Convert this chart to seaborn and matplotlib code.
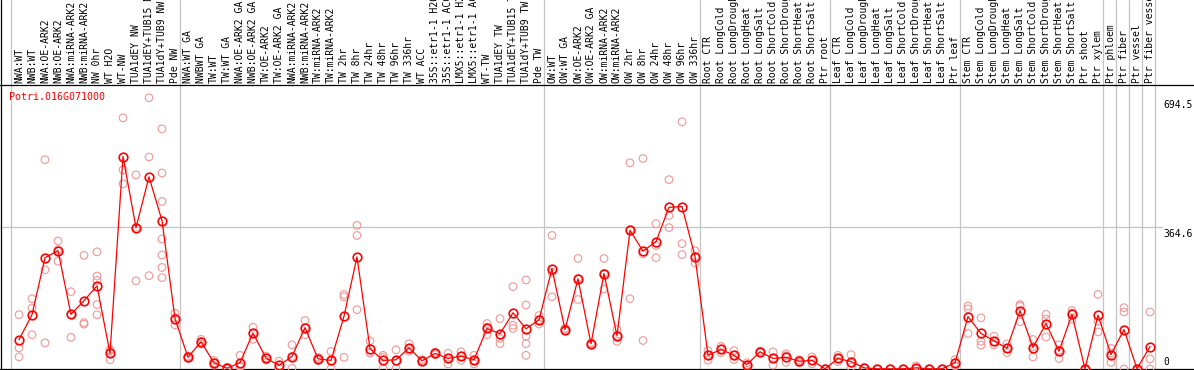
import numpy as np
import pandas as pd
import matplotlib
matplotlib.use("Agg")
import matplotlib.pyplot as plt
import seaborn as sns

# ---------------- data ----------------
labels = ["NWA:WT", "NWB:WT", "NWA:OE-ARK2", "NWB:OE-ARK2", "NWA:miRNA-ARK2", "NWB:miRNA-ARK2",
          "NW 0hr", "WT H2O", "WT-NW", "TUA1dEY NW", "TUA1dEY+TUB15 NW", "TUA1dY+TUB9 NW", "Pde NW",
          "NWA:WT GA", "NWBWT GA", "TW:WT", "TW:WT GA", "NWA:OE-ARK2 GA", "NWB:OE-ARK2 GA",
          "TW:OE-ARK2", "TW:OE-ARK2 GA", "NWA:miRNA-ARK2", "NWB:miRNA-ARK2", "TW:miRNA-ARK2",
          "TW:miRNA-ARK2", "TW 2hr", "TW 8hr", "TW 24hr", "TW 48hr", "TW 96hr", "TW 336hr", "WT ACC",
          "35S::etr1-1 H2O", "35S::etr1-1 ACC", "LMX5::etr1-1 H2O", "LMX5::etr1-1 ACC", "WT-TW",
          "TUA1dEY TW", "TUA1dEY+TUB15 TW", "TUA1dY+TUB9 TW", "Pde TW", "OW:WT", "OW:WT GA",
          "OW:OE-ARK2", "OW:OE-ARK2 GA", "OW:miRNA-ARK2", "OW:miRNA-ARK2", "OW 2hr", "OW 8hr",
          "OW 24hr", "OW 48hr", "OW 96hr", "OW 336hr", "Root CTR", "Root LongCold",
          "Root LongDrought", "Root LongHeat", "Root LongSalt", "Root ShortCold", "Root ShortDrought",
          "Root ShortHeat", "Root ShortSalt", "Ptr root", "Leaf CTR", "Leaf LongCold",
          "Leaf LongDrought", "Leaf LongHeat", "Leaf LongSalt", "Leaf ShortCold", "Leaf ShortDrought",
          "Leaf ShortHeat", "Leaf ShortSalt", "Ptr leaf", "Stem CTR", "Stem LongCold",
          "Stem LongDrought", "Stem LongHeat", "Stem LongSalt", "Stem ShortCold", "Stem ShortDrought",
          "Stem ShortHeat", "Stem ShortSalt", "Ptr shoot", "Ptr xylem", "Ptr phloem", "Ptr fiber",
          "Ptr vessel", "Ptr fiber vessel"]

means = [75, 139, 285, 303, 140, 175, 213, 40, 544, 362, 492, 380, 129,
         30, 70, 16, 2, 16, 92, 28, 9, 32, 106, 26, 22, 135, 287, 52, 22, 23.5, 54, 21,
         40, 27, 33, 23.5, 104, 90, 144, 103, 126,
         257, 101, 231, 64.5, 244.5, 85, 355, 302, 326, 414, 416, 288,
         35, 50, 35, 11.5, 44, 27, 30, 20, 22, 0.5,
         27, 19, 3, 0.5, 0.5, 0.5, 3, 0.5, 0.5, 16,
         134, 91, 72, 53, 149, 55, 116.5, 45.6, 140, 0.5,
         138, 37, 101, 0.5, 57.6]

reps = [[139, 54, 31], [180, 156, 88], [536, 254, 67], [328, 305, 276], [198, 140, 81],
        [291, 119, 115], [300, 238, 227, 165, 139], [46, 49, 24], [643, 510, 474],
        [497, 363, 226], [694.5, 543, 239], [615, 502, 429, 333, 292, 260, 234], [143, 131, 113],
        [33, 30, 27], [76, 70, 64], [22, 16, 10], [4, 1, 0], [35, 8, 5], [107, 92, 76],
        [33, 28, 23], [20, 5, 2], [62, 32, 2], [124, 106, 88], [30, 26, 22], [45, 20, 1],
        [191, 185, 30], [368, 342, 152], [72, 42, 41], [35, 30, 1], [49, 20, 1],
        [64.5, 52, 46], [24, 21, 18], [43, 40, 37], [40.5, 27, 13], [44, 33, 22],
        [35, 23, 13], [116.5, 107, 88], [129, 78, 65], [211, 112, 104],
        [228, 164, 84, 65, 35], [137, 126, 115],
        [342, 248, 185], [104, 101, 98], [283, 232, 178], [67, 64, 62], [283, 245, 205],
        [101, 85, 71], [528, 356, 180], [539, 295, 73], [372, 316, 285], [485, 393, 362],
        [633, 321, 293], [303, 288, 272],
        [47, 35, 22.5], [58, 50, 42], [47, 35, 24], [16, 11, 7], [46, 44, 42], [44, 27, 10],
        [39, 34, 17], [24, 20, 16], [31, 22, 13], [0, 0, 0],
        [35, 27, 19], [37, 15, 5], [3, 3, 3], [0, 0, 0], [0, 0, 0], [0, 0, 0], [8, 1, 0],
        [0, 0, 0], [0, 0, 0], [24, 16, 8],
        [161, 154, 91], [131, 71, 61], [84, 70, 62], [64.5, 53, 42], [165, 161, 121],
        [75.5, 58, 31], [140, 128, 82], [62, 48, 27], [150, 143, 127], [0, 0, 0],
        [191, 122, 95], [53, 41, 17], [157, 146, 0], [0, 0, 0], [146, 26, 0]]

gene = "Potri.016G071000"
ytick_values = [694.5, 364.6, 0]
ytick_labels = ["694.5", "364.6", "0"]
group_ends = [0, 13, 41, 53, 63, 73, 84, 85, 86, 87, 88]   # separator after these category counts

# ---------------- layout ----------------
sns.set_theme(style="white")
plt.rcParams["font.family"] = ["DejaVu Sans Mono"]

W, H = 1194, 370
PX_CAT = 13.0      # pixels per category
X0 = 19.0          # pixel x of first category
Y0 = 369.0         # pixel y (from top) of value 0
PY = 0.3905        # pixels per unit

fig = plt.figure(figsize=(W / 100, H / 100), dpi=100)
ax = fig.add_axes([0, 0, 1, 1])
ax.set_axis_off()

def v_at_px(py):
    return (Y0 - py) / PY

# separators and frame
for k in group_ends:
    ax.axvline(k - 1 + 5 / PX_CAT, color="#c4c4c4", lw=0.9, zorder=1)
ax.axhline(364.6, xmin=0, xmax=1162 / W, color="#c4c4c4", lw=0.9, zorder=1)
ax.axvline(-18 / PX_CAT, color="black", lw=0.9, zorder=1)
ax.axhline(v_at_px(85), color="black", lw=0.9, zorder=1)
ax.axhline(0, color="black", lw=0.9, zorder=1)

# replicate points
xs = np.arange(len(labels))
rep_df = pd.DataFrame({
    "x": np.concatenate([[i] * len(r) for i, r in enumerate(reps)]),
    "y": np.concatenate([r for r in reps]),
})
sns.scatterplot(data=rep_df, x="x", y="y", ax=ax, marker="o", s=30,
                facecolor="none", edgecolor="#f09c9c", linewidth=0.85, zorder=3, legend=False)

# means
mean_df = pd.DataFrame({"x": xs, "y": means})
sns.lineplot(data=mean_df, x="x", y="y", ax=ax, color="red", lw=0.9,
             marker="o", markersize=6.2, mfc="none", mec="red", mew=1.2, zorder=4)
ax.set_xlim(-X0 / PX_CAT, (W - X0) / PX_CAT)
ax.set_ylim(-(H - Y0) / PY, Y0 / PY)

# category labels
for i, lab in enumerate(labels):
    ax.text(i, v_at_px(83), lab, rotation=90, ha="center", va="bottom",
            fontsize=7, color="black", clip_on=False)

# gene name
fig.text(9.5 / W, 1 - 97 / H, gene, color="red", ha="left", va="center", fontsize=7.2)

# value labels on the right
for v, lab in zip(ytick_values, ytick_labels):
    ypx = Y0 - v * PY
    ypx = ypx + 7 if v > 0 else ypx - 7
    fig.text(1163 / W, 1 - ypx / H, lab, ha="left", va="center", fontsize=7, color="black")

fig.savefig("out.png", dpi=100)
